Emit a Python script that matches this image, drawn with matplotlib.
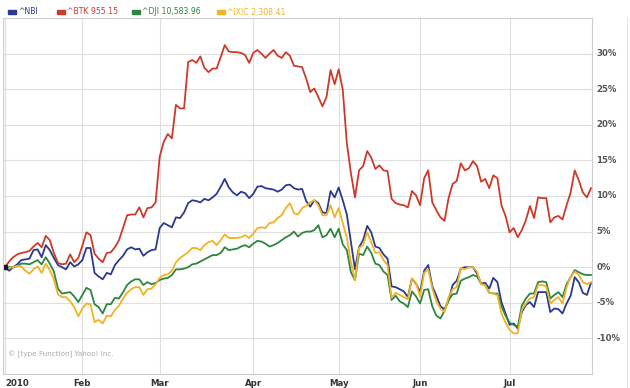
import numpy as np
import pandas as pd
import matplotlib
matplotlib.use("Agg")
import matplotlib.pyplot as plt
from matplotlib.patches import Rectangle
from matplotlib.lines import Line2D

# trading days Jan 4 - Jul 30 2010 (US market holidays removed)
holidays = ["2010-01-18", "2010-02-15", "2010-04-02", "2010-05-31", "2010-07-05"]
days = pd.bdate_range("2010-01-04", "2010-07-30")
days = days[~days.isin(pd.to_datetime(holidays))]

# % change since first day
nbi = [0, -0.5, 0, 0.4, 1.0, 1.1, 1.2, 2.4, 2.5, 1.4, 3.1, 2.4, 1.3, 0.3, 0, -0.3, 0.7, 0.1, 0.4, 1.0,
       2.7, 2.7, -0.8, -1.3, -1.7, -0.8, -1.0, 0.3, 1.0, 1.6, 2.5, 2.8, 2.5, 2.6, 1.6, 2.1, 2.4, 2.5,
       5.5, 6.2, 5.9, 5.6, 7.0, 6.9, 7.7, 9.0, 9.4, 9.3, 9.1, 9.6, 9.4, 9.8, 10.3, 11.3, 12.4, 11.2,
       10.5, 10.1, 10.6, 10.4, 9.7, 10.3, 11.3, 11.4, 11.1, 11.0, 10.9, 10.6, 10.9, 11.5, 11.6, 11.1,
       10.9, 11.0, 9.3, 8.5, 9.4, 9.0, 7.7, 7.6, 10.7, 9.8, 11.2, 9.4, 7.4, 3.6, -0.3, 2.8, 3.8, 5.8,
       4.9, 2.9, 2.7, 1.8, 1.2, -2.7, -2.8, -3.1, -3.4, -4.2, -1.6, -2.3, -3.5, -0.5, 0.3, -2.7, -4.0,
       -5.5, -5.9, -4.7, -2.5, -1.9, -0.2, 0, 0, 0, -0.9, -2.3, -2.2, -3.0, -1.5, -2.1, -4.9, -6.5,
       -8.1, -7.9, -8.6, -6.3, -5.3, -4.9, -5.6, -3.5, -3.5, -3.5, -6.3, -5.8, -5.9, -6.5, -5.1, -4.0,
       -1.4, -2.1, -3.6, -3.9, -2.2]
btk = [0, 0.8, 1.4, 1.8, 2.0, 2.1, 2.3, 2.9, 3.4, 2.8, 4.4, 3.8, 2.0, 0.6, 0.4, 0.5, 1.8, 0.7, 1.3, 3.0,
       4.9, 4.5, 1.9, 1.2, 0.7, 2.0, 2.1, 2.8, 3.8, 5.5, 7.3, 7.4, 7.4, 8.4, 7.0, 8.3, 8.4, 9.1,
       15.5, 17.6, 18.7, 18.1, 22.8, 22.3, 22.3, 28.8, 29.1, 28.7, 29.6, 28.0, 27.4, 27.9, 27.9, 29.5,
       31.2, 30.3, 30.2, 30.2, 30.1, 29.8, 28.7, 30.1, 30.5, 30.0, 29.4, 30.0, 30.5, 29.7, 29.4, 30.2,
       29.7, 28.3, 28.2, 28.1, 26.5, 24.6, 25.1, 23.9, 22.6, 23.9, 27.7, 25.7, 27.8, 24.9, 17.4, 13.2,
       9.8, 13.6, 14.2, 16.3, 15.4, 13.8, 14.3, 13.6, 13.5, 9.6, 9.0, 8.8, 8.7, 8.4, 10.7, 10.1, 8.7,
       12.5, 13.6, 9.1, 8.0, 7.0, 6.5, 9.7, 11.7, 12.1, 14.6, 13.6, 13.9, 14.9, 14.2, 12.0, 12.4, 11.1,
       12.9, 12.5, 8.7, 7.2, 4.9, 5.5, 4.2, 5.2, 6.6, 8.6, 6.9, 9.8, 9.7, 9.7, 6.3, 7.0, 7.2, 6.7, 8.7,
       10.5, 13.6, 12.2, 10.5, 9.8, 11.1]
dji = [0, 0, 0, 0.2, 0.5, 0.5, 0.4, 0.7, 1.0, 0.4, 1.4, 0.5, -0.6, -3.0, -3.7, -3.6, -3.5, -4.1, -4.9,
       -3.9, -2.9, -3.2, -5.2, -5.6, -6.5, -5.2, -5.2, -4.3, -4.4, -3.5, -2.5, -2.0, -1.7, -1.7, -2.5,
       -2.1, -2.4, -2.2, -1.8, -1.6, -1.5, -1.1, -0.3, -0.3, -0.2, 0, 0.4, 0.5, 0.8, 1.1, 1.4, 1.7, 1.7,
       2.0, 2.8, 2.4, 2.5, 2.6, 2.9, 3.1, 2.8, 3.3, 3.7, 3.6, 3.3, 2.9, 3.1, 3.4, 3.8, 4.2, 4.5, 5.0,
       4.3, 4.8, 5.0, 5.0, 5.2, 5.9, 4.2, 4.5, 5.4, 4.2, 5.4, 3.2, 2.4, -0.7, -1.8, 1.9, 1.7, 2.9, 2.0,
       0.5, 0.3, -0.6, -1.1, -4.6, -4.0, -4.8, -5.1, -5.6, -3.4, -4.1, -5.1, -3.2, -3.1, -5.5, -6.8,
       -7.2, -6.1, -4.6, -3.8, -3.7, -1.9, -1.6, -1.4, -1.1, -1.3, -2.3, -2.5, -3.6, -3.7, -3.7, -5.5,
       -6.8, -7.8, -8.1, -8.4, -5.4, -4.4, -3.7, -3.7, -2.1, -2.0, -2.1, -4.4, -3.9, -3.5, -4.2, -2.4,
       -1.4, -0.4, -0.7, -1.0, -1.1, -1.1]
ixic = [-0.1, -0.1, 0, 0.2, 0.1, -0.5, -0.9, -0.3, 0.1, -0.8, 0.5, -0.4, -1.7, -3.8, -4.2, -4.2, -4.8,
        -5.6, -6.9, -5.8, -5.1, -5.2, -7.7, -7.4, -7.9, -6.8, -6.9, -6.0, -5.4, -4.4, -3.6, -3.1, -2.8,
        -2.8, -3.9, -3.1, -3.0, -2.4, -1.5, -1.1, -1.0, -0.5, 0.7, 1.3, 1.7, 2.1, 2.7, 2.7, 2.4, 3.1,
        3.5, 3.7, 3.1, 3.8, 4.6, 4.1, 4.1, 4.1, 4.2, 4.5, 4.1, 4.7, 5.5, 5.6, 5.5, 6.2, 6.3, 6.9, 7.3,
        8.3, 9.0, 7.6, 7.4, 8.3, 8.6, 9.1, 9.4, 8.7, 7.3, 7.3, 8.7, 7.0, 8.3, 6.2, 4.1, 0.7, -1.8, 2.7,
        3.1, 4.9, 3.5, 2.0, 2.1, 1.0, 0.3, -4.3, -3.6, -3.9, -4.2, -4.5, -1.6, -2.2, -4.1, -0.8, -0.3,
        -3.0, -4.8, -5.8, -6.3, -4.2, -3.1, -2.8, -0.1, -0.3, 0, 0, -0.6, -2.4, -2.5, -3.6, -3.7, -3.9,
        -6.5, -7.8, -8.8, -9.3, -9.3, -6.0, -5.1, -4.4, -4.2, -2.5, -2.5, -2.7, -5.1, -4.6, -4.2, -5.1,
        -2.8, -1.4, -0.6, -1.1, -2.1, -2.4, -2.1]

names = ["^NBI", "^BTK 955.15", "^DJI 10,583.96", "^IXIC 2,308.41"]
colors = ["#2b3990", "#cc3a2a", "#2e8540", "#f0b323"]
series = [nbi, btk, dji, ixic]

month_labels = ["2010", "Feb", "Mar", "Apr", "May", "Jun", "Jul"]
yticks = [-10, -5, 0, 5, 10, 15, 20, 25, 30]

n = min(len(days), *[len(s) for s in series])
x = np.arange(n)

fig = plt.figure(figsize=(6.3, 3.88), dpi=100)
ax = fig.add_axes([3 / 630, 14 / 388, 589 / 630, 356 / 388])

for s, c in zip(series, colors):
    ax.plot(x, s[:n], color=c, lw=1.3, solid_joinstyle="round")
ax.plot(x[0], nbi[0], marker="s", ms=3, color="#111133")

ax.set_xlim(-0.5, n - 0.75)
ax.set_ylim(-15, 35)

# month starts as grid positions
d = pd.Series(days[:n])
starts = [0] + [i for i in range(1, n) if d[i].month != d[i - 1].month]
ax.set_xticks(starts)
ax.set_xticklabels([])
ax.set_yticks(yticks)
ax.set_yticklabels([])
ax.tick_params(length=0)
ax.grid(True, color="#dedede", lw=0.8)
ax.set_axisbelow(True)
for sp in ax.spines.values():
    sp.set_color("#cfcfcf")
    sp.set_linewidth(0.8)

# tick labels drawn as text through axes transforms
for k, (pos, lab) in enumerate(zip(starts, month_labels)):
    ax.annotate(lab, (pos, 0), xycoords=("data", "axes fraction"),
                xytext=(0, -7), textcoords="offset points",
                ha="left" if k == 0 else "center", va="center",
                fontsize=6.2, fontweight="bold", color="#333333")
for v in yticks:
    ax.annotate(f"{v}%", (1, v), xycoords=("axes fraction", "data"),
                xytext=(3, 0), textcoords="offset points",
                ha="left", va="center", fontsize=6.2, fontweight="bold", color="#555555")

ax.text(0.008, 0.055, "\u00a9 [type Function] Yahoo! Inc.", transform=ax.transAxes,
        fontsize=5.2, color="#aaaaaa", va="center")

# legend row
lx = [8, 57, 132, 217]
for px, name, c in zip(lx, names, colors):
    fig.patches.append(Rectangle((px / 630, 1 - 14 / 388), 8 / 630, 4 / 388,
                                 transform=fig.transFigure, color=c))
    fig.text((px + 10) / 630, 1 - 12 / 388, name, fontsize=5.6,
             color=c, va="center", ha="left")

# right border of label column
fig.lines.append(Line2D([627 / 630, 627 / 630], [0, 1 - 18 / 388],
                        transform=fig.transFigure, color="#e4e4e4", lw=0.8))

fig.savefig("out.png", dpi=100)
